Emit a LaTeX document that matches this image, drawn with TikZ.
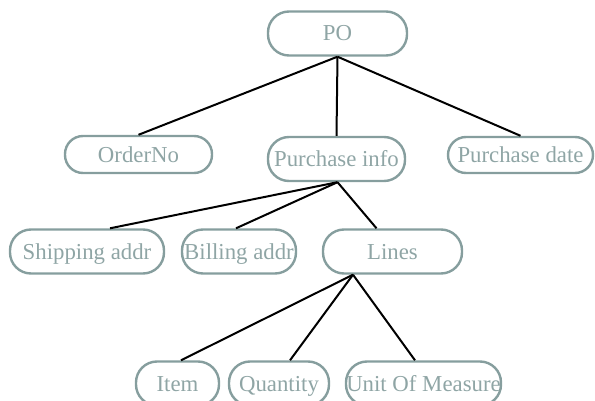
\documentclass[tikz,border=0pt]{standalone}
\usepackage{fontspec}
\setmainfont{Liberation Serif}
\usepackage{xcolor}
\usetikzlibrary{positioning,calc}
\definecolor{boxline}{HTML}{869E9E}
\definecolor{boxtext}{HTML}{8FA5A5}

\begin{document}
\begin{tikzpicture}[x=1pt,y=1pt,
		item/.style={draw=boxline,line width=2.4pt,text=boxtext,rounded corners=21pt,
			minimum height=44pt,inner sep=0pt,text height=15pt,text depth=0pt,
			font=\fontsize{22.8}{24}\selectfont},
		link/.style={line width=2pt,black}]
		\useasboundingbox (0,0) rectangle (595,400);
		\clip (0,0) rectangle (595,400);
		% top level
		\node[item,minimum width=139pt] (po) at (337.5,366.5) {PO};
		\node[item,minimum width=147pt,minimum height=37pt,rounded corners=18pt] (orderno) at (138.5,245.5) {OrderNo};
		\node[item,minimum width=137pt] (pinfo) at (336.5,241) {Purchase info};
		\node[item,minimum width=145pt,minimum height=36pt,rounded corners=18pt] (pdate) at (520.5,245) {Purchase date};
		% purchase info
		\node[item,minimum width=154pt] (ship) at (87,148.5) {Shipping addr};
		\node[item,minimum width=114pt] (bill) at (239,148.5) {Billing addr};
		\node[item,minimum width=139pt] (lines) at (392.5,148.5) {Lines};
		% lines
		\node[item,minimum width=83pt] (itm) at (177.5,16.5) {Item};
		\node[item,minimum width=100pt] (qty) at (279,16.5) {Quantity};
		\node[item,minimum width=155pt] (uom) at (423.5,16.5) {Unit Of Measure};
		\draw[link] (po.south) -- (orderno.north);
		\draw[link] (po.south) -- (pinfo.north);
		\draw[link] (po.south) -- (pdate.north);
		\draw[link] ([xshift=1pt]pinfo.south) -- ([xshift=23pt]ship.north);
		\draw[link] ([xshift=1pt]pinfo.south) -- ([xshift=-3pt]bill.north);
		\draw[link] ([xshift=1pt]pinfo.south) -- ([xshift=-16pt]lines.north);
		\draw[link] ([xshift=-39.5pt]lines.south) -- ([xshift=3.5pt]itm.north);
		\draw[link] ([xshift=-39.5pt]lines.south) -- ([xshift=11pt]qty.north);
		\draw[link] ([xshift=-39.5pt]lines.south) -- ([xshift=-8.5pt]uom.north);
	\end{tikzpicture}
\end{document}
